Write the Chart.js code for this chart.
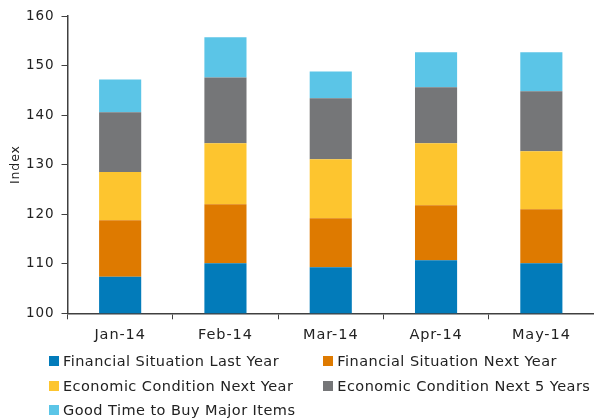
<!DOCTYPE html>
<html>
<head>
<meta charset="utf-8">
<script src="https://cdn.jsdelivr.net/npm/chart.js@4"></script>
<style>
  html, body { margin: 0; padding: 0; background: #fff; }
  #wrap { position: relative; width: 594px; height: 419px; overflow: hidden; }
  canvas { position: absolute; left: 0; top: 0; }
  .lg { position: absolute; font-family: "DejaVu Sans", Verdana, sans-serif; font-size: 14.5px; letter-spacing: 0.45px; color: #222; white-space: nowrap; line-height: 16px; }
  .lg i { position: absolute; width: 10px; height: 10px; }
</style>
</head>
<body>
<div id="wrap">
  <canvas id="c" width="594" height="419"></canvas>
  <div id="legend"></div>
</div>
<script>
// Categories
const months = ["Jan-14", "Feb-14", "Mar-14", "Apr-14", "May-14"];
// Series: component heights (stacked on top of each other, base at 0; axis starts at 100)
const financialLastYear = [107.4, 110.1, 109.3, 110.7, 110.1];
const financialNextYear = [11.4, 11.9, 9.9, 11.1, 10.9];
const economicNextYear = [9.7, 12.3, 11.9, 12.5, 11.7];
const economicNext5Years = [12.1, 13.3, 12.3, 11.3, 12.1];
const goodTimeToBuy = [6.6, 8.1, 5.4, 7.1, 7.9];
// Y axis ticks
const yTicks = [100, 110, 120, 130, 140, 150, 160];

const seriesNames = [
  "Financial Situation Last Year",
  "Financial Situation Next Year",
  "Economic Condition Next Year",
  "Economic Condition Next 5 Years",
  "Good Time to Buy Major Items"
];
const seriesData = [financialLastYear, financialNextYear, economicNextYear, economicNext5Years, goodTimeToBuy];
const seriesColors = ["#027BBA", "#DE7A00", "#FDC52F", "#757678", "#5BC5E7"];

const FONT = "'DejaVu Sans', Verdana, sans-serif";
const AXIS = "#404040";

const spacingPlugin = {
  id: "spacing",
  beforeDraw(chart) { chart.ctx.save(); chart.ctx.letterSpacing = "0.9px"; },
  afterDraw(chart) { chart.ctx.restore(); }
};

new Chart(document.getElementById("c"), {
  type: "bar",
  data: {
    labels: months,
    datasets: seriesNames.map((n, i) => ({
      label: n,
      data: seriesData[i],
      backgroundColor: seriesColors[i],
      borderWidth: 0,
      categoryPercentage: 1,
      barPercentage: 0.4
    }))
  },
  plugins: [spacingPlugin],
  options: {
    responsive: false,
    animation: false,
    devicePixelRatio: 1,
    layout: { padding: { top: 16, right: -3, bottom: 65.7, left: 0 } },
    plugins: { legend: { display: false }, tooltip: { enabled: false } },
    scales: {
      x: {
        stacked: true,
        offset: true,
        grid: { display: true, drawOnChartArea: false, drawTicks: true, tickLength: 6, color: AXIS, offset: true },
        border: { display: true, color: AXIS, width: 1.5 },
        ticks: { color: "#222", font: { family: FONT, size: 14.5 }, padding: 7, maxRotation: 0 },
        afterFit: s => { s.height = 40; }
      },
      y: {
        stacked: true,
        min: 100,
        max: 160,
        afterBuildTicks: s => { s.ticks = yTicks.map(v => ({ value: v })); },
        grid: { display: true, drawOnChartArea: false, drawTicks: true, tickLength: 6, color: AXIS },
        border: { display: true, color: AXIS, width: 1.5 },
        ticks: { color: "#222", font: { family: FONT, size: 13.5 }, padding: 7 },
        title: { display: true, text: "Index", color: "#222", font: { family: FONT, size: 12.5 }, padding: { top: 8, bottom: 0 } },
        afterFit: s => { s.width = 67.5; }
      }
    }
  }
});

// HTML legend
const legendPos = [
  { x: 49, y: 361 }, { x: 323.3, y: 361 },
  { x: 49, y: 385.5 }, { x: 323.3, y: 385.5 },
  { x: 49, y: 410 }
];
const lg = document.getElementById("legend");
seriesNames.forEach((n, i) => {
  const d = document.createElement("div");
  d.className = "lg";
  d.style.left = legendPos[i].x + "px";
  d.style.top = (legendPos[i].y - 8) + "px";
  d.innerHTML = '<i style="left:0;top:3px;background:' + seriesColors[i] + '"></i><span style="margin-left:14px">' + n + '</span>';
  lg.appendChild(d);
});
</script>
</body>
</html>
